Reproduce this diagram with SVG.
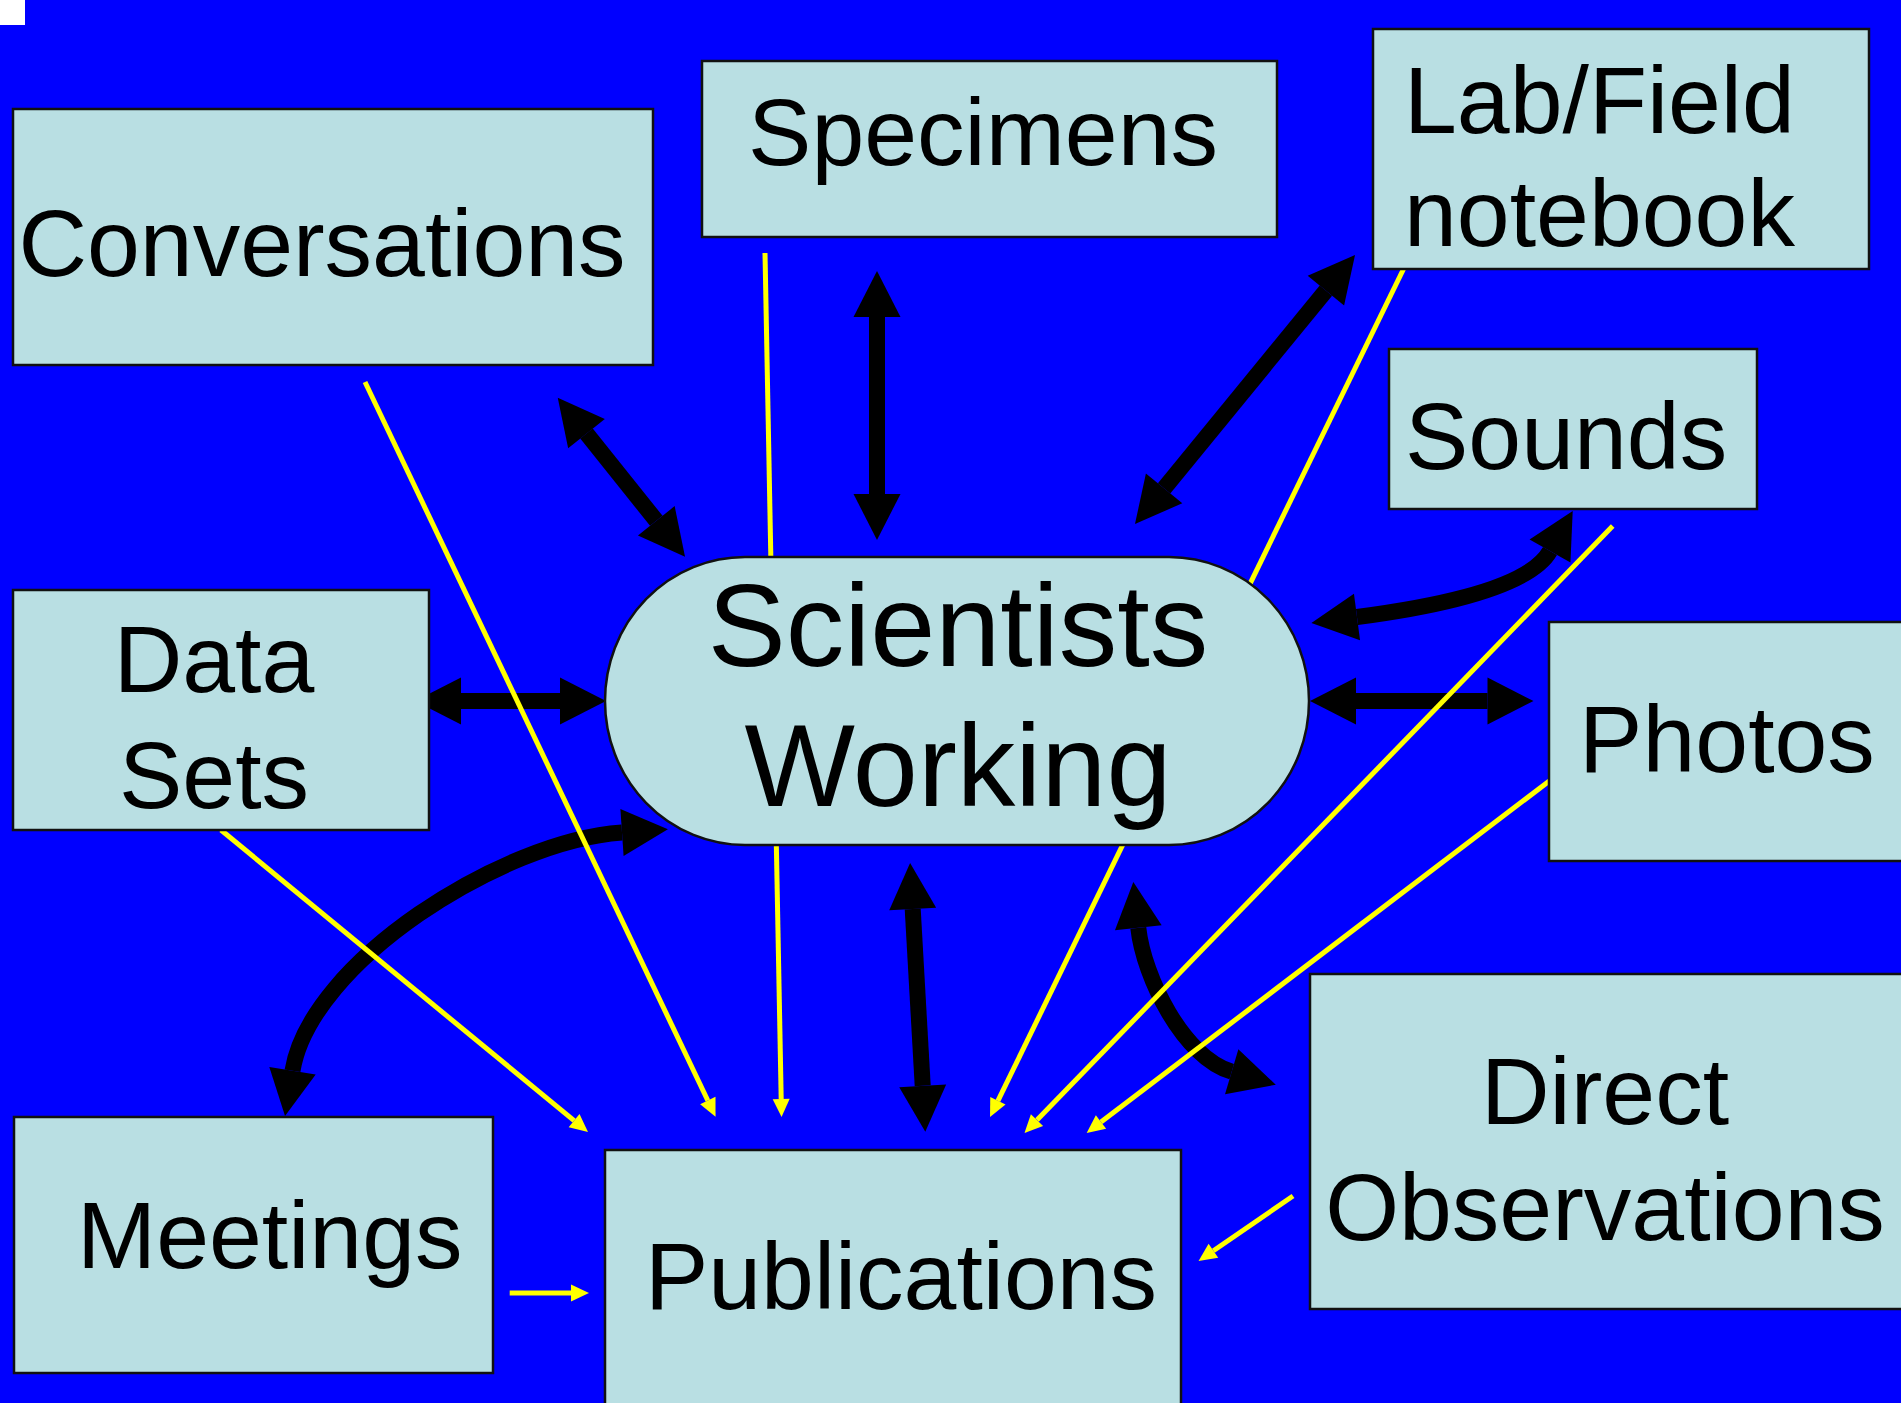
<svg xmlns="http://www.w3.org/2000/svg" width="1901" height="1403" viewBox="0 0 1901 1403">
<defs>
<style>
.bg{fill:#0000FF}
.box{fill:#B9DFE3;stroke:#111;stroke-width:2.5}
.lbl{font-family:"Liberation Sans",Arial,sans-serif;font-size:95px;fill:#000}
.big{font-family:"Liberation Sans",Arial,sans-serif;font-size:117px;fill:#000}
.bk{fill:none;stroke:#000;stroke-width:16;marker-start:url(#hb);marker-end:url(#hb)}
.yl{fill:none;stroke:#FFFF00;stroke-width:5;marker-end:url(#hy)}
</style>
<marker id="hb" markerUnits="userSpaceOnUse" viewBox="0 -24 46 48" refX="0" refY="0" markerWidth="46" markerHeight="48" orient="auto-start-reverse" overflow="visible">
<path d="M0,-23.5 L46,0 L0,23.5 Z" fill="#000"/>
</marker>
<marker id="hy" markerUnits="userSpaceOnUse" viewBox="0 -9 18 18" refX="0" refY="0" markerWidth="18" markerHeight="18" orient="auto" overflow="visible">
<path d="M0,-8.5 L18,0 L0,8.5 Z" fill="#FFFF00"/>
</marker>
</defs>
<rect class="bg" x="0" y="0" width="1901" height="1403"/>
<rect x="0" y="0" width="25" height="25" fill="#FFFFFF"/>
<g id="connectors">
<path class="bk" d="M877,317 L877,494"/>
<path class="bk" d="M1325.9,290.6 L1164.1,488.4"/>
<path class="bk" d="M586.5,433.6 L656.3,520.8"/>
<path class="bk" d="M461,701 L560,701"/>
<path class="bk" d="M1356,701 L1487.5,701"/>
<path class="bk" d="M1357,617 Q1525,595 1550,551"/>
<path class="bk" d="M912.7,909 L922.7,1085.8"/>
<path class="bk" d="M292.5,1070.7 C310.4,962.1 502.2,840.7 622,832.5"/>
<path class="bk" d="M1138.3,927.8 C1143.7,977.5 1183.7,1057.5 1231.7,1071.7"/>
<path class="yl" d="M221,830 L574.1,1120.6"/>
<path class="yl" d="M365,382 L707.8,1100.5"/>
<path class="yl" d="M765,253 L781.2,1099" stroke-width="4"/>
<path class="yl" d="M1404,268 L997.9,1100.8"/>
<path class="yl" d="M1612.7,526 L1037,1120.1"/>
<path class="yl" d="M1549.3,781 L1101,1122.1"/>
<path class="yl" d="M1293,1196 L1213.4,1250.8"/>
<path class="yl" d="M509.7,1293 L571,1293" stroke-width="5.5"/>
</g>
<g id="conversations"><rect class="box" x="13" y="109" width="640" height="256"/><text class="lbl" x="322" y="276" text-anchor="middle">Conversations</text></g>
<g id="specimens"><rect class="box" x="702" y="61" width="575" height="176"/><text class="lbl" x="983" y="165" text-anchor="middle">Specimens</text></g>
<g id="labfield"><rect class="box" x="1373" y="29" width="496" height="240"/><text class="lbl" x="1404" y="133">Lab/Field</text><text class="lbl" x="1404" y="246">notebook</text></g>
<g id="sounds"><rect class="box" x="1389" y="349" width="368" height="160"/><text class="lbl" x="1405" y="469">Sounds</text></g>
<g id="datasets"><rect class="box" x="13" y="590" width="416" height="240"/><text class="lbl" x="214" y="692" text-anchor="middle">Data</text><text class="lbl" x="214" y="808" text-anchor="middle">Sets</text></g>
<g id="photos"><rect class="box" x="1549" y="622" width="370" height="239"/><text class="lbl" x="1727" y="772" text-anchor="middle">Photos</text></g>
<g id="directobs"><rect class="box" x="1310" y="974" width="610" height="335"/><text class="lbl" x="1605" y="1124" text-anchor="middle">Direct</text><text class="lbl" x="1605" y="1240" text-anchor="middle">Observations</text></g>
<g id="meetings"><rect class="box" x="14" y="1117" width="479" height="256"/><text class="lbl" x="77" y="1268">Meetings</text></g>
<g id="publications"><rect class="box" x="605" y="1150" width="576" height="270"/><text class="lbl" x="901" y="1309" text-anchor="middle">Publications</text></g>
<g id="scientists"><rect class="box" x="605" y="557" width="704" height="288" rx="140" ry="144"/><text class="big" x="958" y="666" text-anchor="middle">Scientists</text><text class="big" x="958" y="806" text-anchor="middle">Working</text></g>
</svg>
